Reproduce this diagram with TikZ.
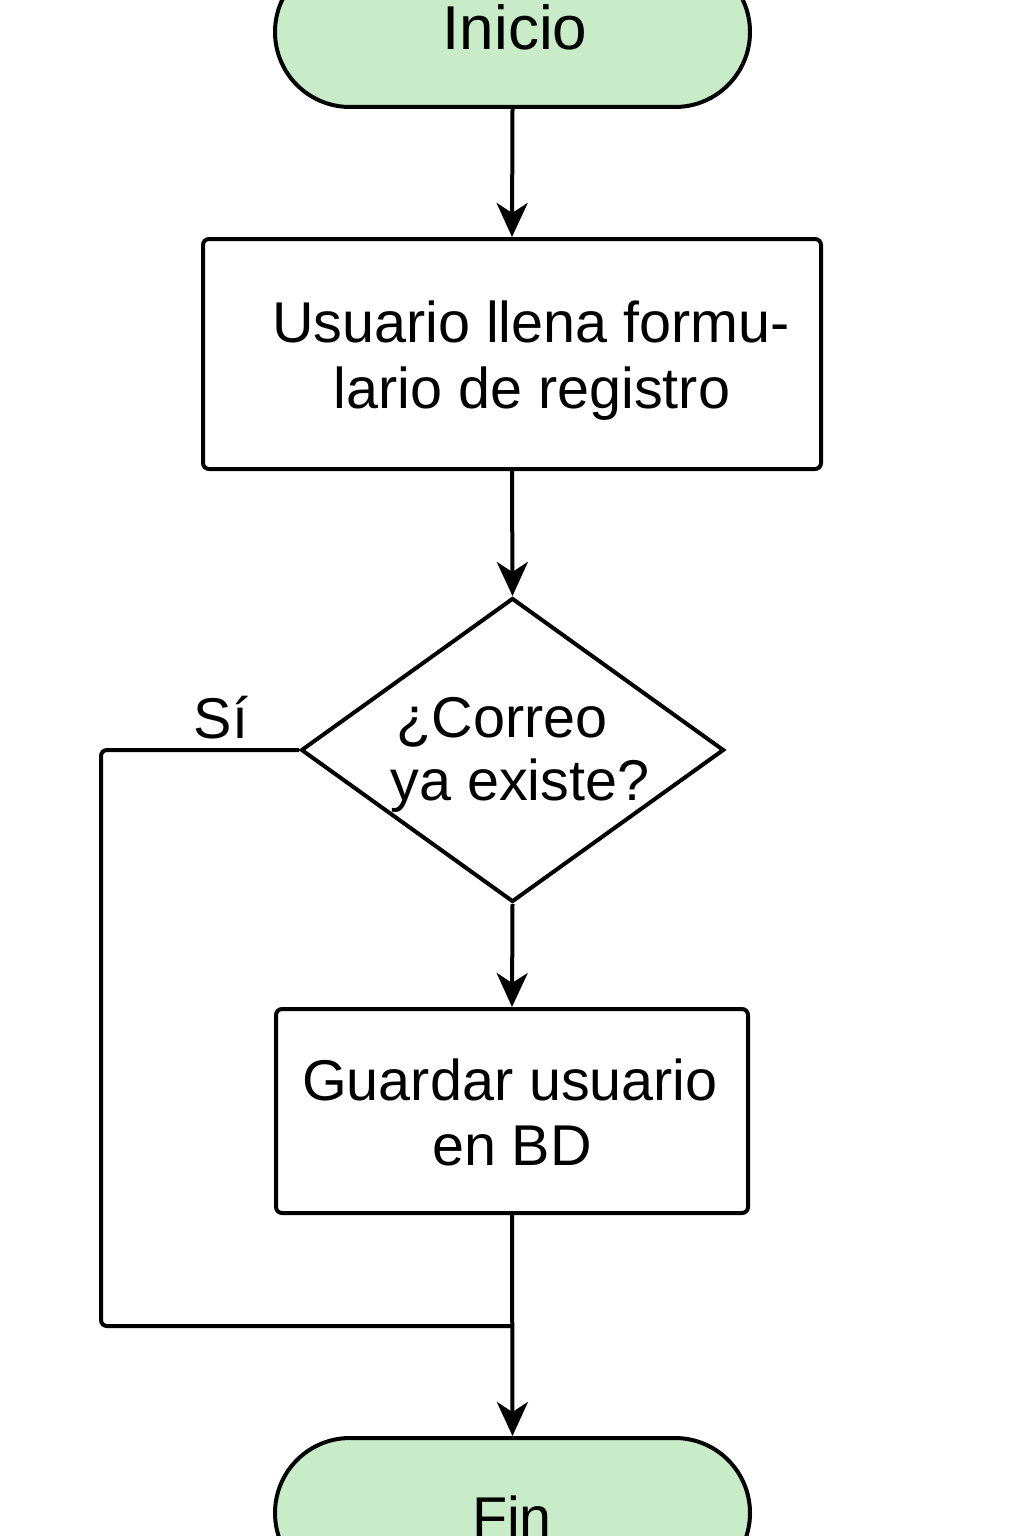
\documentclass[tikz,border=0pt]{standalone}
\usepackage{fontspec}
\setmainfont{Liberation Sans}
\usetikzlibrary{shapes.geometric,arrows.meta}
\definecolor{termfill}{HTML}{C8ECC8}
\tikzset{
  flowline/.style={line width=4pt, draw=black},
  arrowline/.style={flowline, -{Stealth[length=34pt,width=31pt,inset=10pt]}},
  terminal/.style={flowline, fill=termfill, rectangle, rounded corners=75pt, minimum width=475pt, minimum height=150pt, inner sep=0pt},
  process/.style={flowline, fill=white, rectangle, rounded corners=6pt, inner sep=0pt},
  decision/.style={flowline, fill=white, diamond, inner sep=0pt, minimum width=423pt, minimum height=304pt},
  txt/.style={anchor=base, inner sep=0pt, font=\fontsize{57.5}{66}\selectfont},
  bigtxt/.style={anchor=base, inner sep=0pt, font=\fontsize{62}{70}\selectfont}
}
\begin{document}
\begin{tikzpicture}[x=1pt,y=-1pt]
\fill[white] (0,0) rectangle (1024,1536);
\useasboundingbox (0,0) rectangle (1024,1536);

\node[terminal] (start) at (512.5,32) {};
\node[bigtxt] (startt) at (515,50) {Inicio};

\node[process, minimum width=618pt, minimum height=230pt] (fill) at (512,354) {};
\node[txt] (fillt1) at (531,342) {Usuario llena formu-};
\node[txt] (fillt2) at (532,408) {lario de registro};

\node[decision] (dec) at (512.5,750) {};
\node[txt] (dect1) at (502,737) {¿Correo};
\node[txt] (dect2) at (520,800) {ya existe?};
\node[txt] (si) at (221,738) {Sí};

\node[process, minimum width=472pt, minimum height=204pt] (save) at (512,1111) {};
\node[txt] (savet1) at (510,1100) {Guardar usuario};
\node[txt] (savet2) at (512,1165) {en BD};

\node[terminal] (fin) at (512.5,1513) {};
\node[txt] (fint) at (512,1537) {Fin};

\coordinate (join) at (512,1326);

\draw[arrowline] (start.south) -- (fill.north);
\draw[arrowline] (fill.south) -- (dec.north);
\draw[arrowline] (dec.south) -- (save.north);
\draw[arrowline] (save.south) -- (fin.north);
\draw[flowline, rounded corners=6pt] (dec.west) -- (101,750) -- (101,1326) -- (join);
\end{tikzpicture}
\end{document}
